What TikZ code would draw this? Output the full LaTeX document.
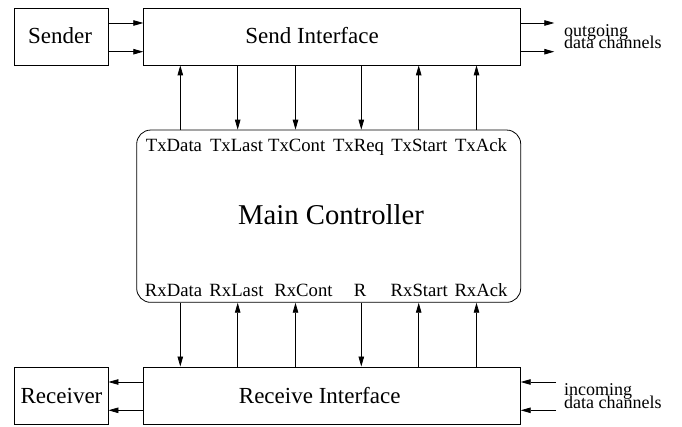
\documentclass[tikz,border=0pt]{standalone}
\usepackage{fontspec}
\setmainfont{Liberation Serif}
\usetikzlibrary{arrows.meta}
\begin{document}
\begin{tikzpicture}[x=1pt,y=-1pt,
  box/.style={draw, line width=0.8pt, inner sep=0pt},
  big/.style={font=\fontsize{23}{26}\selectfont, inner sep=0pt, anchor=base},
  huge/.style={font=\fontsize{28.7}{32}\selectfont, inner sep=0pt, anchor=base},
  port/.style={font=\fontsize{18.7}{21}\selectfont, inner sep=0pt, anchor=base},
  chan/.style={font=\fontsize{18}{20}\selectfont, inner sep=0pt, anchor=base west},
  arr/.style={line width=0.8pt, -{Triangle[length=10pt,width=5.5pt]}}
]
\useasboundingbox (0,0) rectangle (682,427);
% boxes
\node[box, minimum width=94pt, minimum height=57pt] (sender) at (61,36.5) {};
\node[box, minimum width=376.6pt, minimum height=57pt] (sendif) at (332,36.5) {};
\node[box, rounded corners=14pt, minimum width=384pt, minimum height=172.3pt] (main) at (328.7,216.2) {};
\node[box, minimum width=376.6pt, minimum height=57.7pt] (recvif) at (332,395.8) {};
\node[box, minimum width=94pt, minimum height=57.7pt] (receiver) at (61,395.8) {};
% box texts
\node[big] (sendertxt) at (60,44) {Sender};
\node[big] (sendiftxt) at (312,44) {Send Interface};
\node[huge] (maintxt) at (331,224.3) {Main Controller};
\node[big] (recviftxt) at (319.7,403) {Receive Interface};
\node[big] (receivertxt) at (61.5,403) {Receiver};
% port labels
\node[port] (ptxdata) at (174,151.7) {TxData};
\node[port] (ptxlast) at (236.5,151.7) {TxLast};
\node[port] (ptxcont) at (296.7,151.7) {TxCont};
\node[port] (ptxreq) at (358.5,151.7) {TxReq};
\node[port] (ptxstart) at (419.3,151.7) {TxStart};
\node[port] (ptxack) at (481,151.7) {TxAck};
\node[port] (prxdata) at (173.5,296.7) {RxData};
\node[port] (prxlast) at (236.5,296.7) {RxLast};
\node[port] (prxcont) at (303.5,296.7) {RxCont};
\node[port] (pr) at (360,296.7) {R};
\node[port] (prxstart) at (419.3,296.7) {RxStart};
\node[port] (prxack) at (481,296.7) {RxAck};
% channel texts
\node[chan] (outtxt1) at (564,36.7) {outgoing};
\node[chan] (outtxt2) at (564,49) {data channels};
\node[chan] (intxt1) at (564,395.7) {incoming};
\node[chan] (intxt2) at (564,408.5) {data channels};
% column coordinates
\coordinate (c1) at (180.3,0);
\coordinate (c2) at (237.7,0);
\coordinate (c3) at (295.5,0);
\coordinate (c4) at (361.3,0);
\coordinate (c5) at (418.7,0);
\coordinate (c6) at (476.5,0);
% vertical arrows top
\draw[arr] (main.north -| c1) -- (sendif.south -| c1);
\draw[arr] (sendif.south -| c2) -- (main.north -| c2);
\draw[arr] (sendif.south -| c3) -- (main.north -| c3);
\draw[arr] (sendif.south -| c4) -- (main.north -| c4);
\draw[arr] (main.north -| c5) -- (sendif.south -| c5);
\draw[arr] (main.north -| c6) -- (sendif.south -| c6);
% vertical arrows bottom
\draw[arr] (main.south -| c1) -- (recvif.north -| c1);
\draw[arr] (recvif.north -| c2) -- (main.south -| c2);
\draw[arr] (recvif.north -| c3) -- (main.south -| c3);
\draw[arr] (main.south -| c4) -- (recvif.north -| c4);
\draw[arr] (recvif.north -| c5) -- (main.south -| c5);
\draw[arr] (recvif.north -| c6) -- (main.south -| c6);
% row coordinates
\coordinate (r1) at (0,23);
\coordinate (r2) at (0,51.7);
\coordinate (r3) at (0,382);
\coordinate (r4) at (0,410.3);
\coordinate (out1) at (554.3,23);
\coordinate (out2) at (554.3,51.7);
\coordinate (in1) at (556,382);
\coordinate (in2) at (556,410.3);
% horizontal arrows
\draw[arr] (sender.east |- r1) -- (sendif.west |- r1);
\draw[arr] (sender.east |- r2) -- (sendif.west |- r2);
\draw[arr] (sendif.east |- out1) -- (out1);
\draw[arr] (sendif.east |- out2) -- (out2);
\draw[arr] (recvif.west |- r3) -- (receiver.east |- r3);
\draw[arr] (recvif.west |- r4) -- (receiver.east |- r4);
\draw[arr] (in1) -- (recvif.east |- in1);
\draw[arr] (in2) -- (recvif.east |- in2);
\end{tikzpicture}
\end{document}
